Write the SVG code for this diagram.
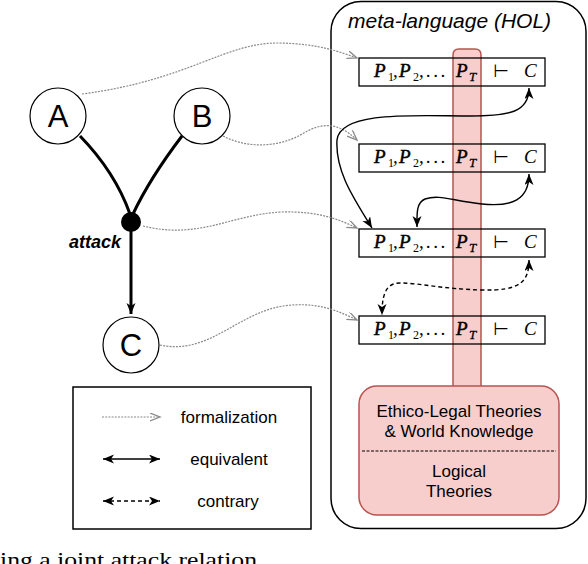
<svg xmlns="http://www.w3.org/2000/svg" width="588" height="564" viewBox="0 0 588 564">
<defs>
<style>
.sans{font-family:"Liberation Sans",Arial,sans-serif;fill:#000}
.node{fill:#fff;stroke:#000;stroke-width:1.2}
.edge{fill:none;stroke:#000;stroke-width:3}
.fbox{fill:none;stroke:#000;stroke-width:1.3}
.m{font-family:"Liberation Serif","Times New Roman",serif;font-style:italic;font-size:19px;fill:#000}
.p{stroke:#000;stroke-width:0.5}
.ms{font-family:"Liberation Serif","Times New Roman",serif;font-style:normal;font-size:12px;fill:#000}
.mt{font-family:"Liberation Serif","Times New Roman",serif;font-style:italic;font-size:13px;fill:#000;stroke:#000;stroke-width:0.3}
.turn{font-family:"DejaVu Sans",sans-serif;font-size:18px;fill:#000}
.form{fill:none;stroke:#8a8a8a;stroke-width:1.2;stroke-dasharray:2 1.2}
.equiv{fill:none;stroke:#000;stroke-width:1.4}
.contr{fill:none;stroke:#000;stroke-width:1.4;stroke-dasharray:4 3}
.red{fill:#f8cecc;stroke:#b85450;stroke-width:1.5}
.lbl{font-size:17px;text-anchor:middle}
</style>
<marker id="open" markerUnits="userSpaceOnUse" markerWidth="12" markerHeight="10" refX="10" refY="4" orient="auto">
<path d="M0,0 L10,4 L0,8" fill="none" stroke="#8a8a8a" stroke-width="1.3"/>
</marker>
<marker id="fill" markerUnits="userSpaceOnUse" markerWidth="13" markerHeight="10" refX="11" refY="4.5" orient="auto-start-reverse">
<path d="M0,0 L11,4.5 L0,9 L3,4.5 z" fill="#000"/>
</marker>
</defs>
<rect width="588" height="564" fill="#fff"/>

<g id="meta-language">
<rect x="331" y="1.5" width="255" height="527" rx="30" ry="30" fill="none" stroke="#000" stroke-width="1.5"/>
<text class="sans" x="348" y="28" font-size="21" font-style="italic">meta-language (HOL)</text>
</g>

<g id="theory-bar">
<path class="red" d="M453,390 V55 Q453,49 459,49 H475 Q481,49 481,55 V390"/>
</g>

<g id="theories">
<rect class="red" x="359" y="386" width="200" height="129" rx="18" ry="18"/>
<line x1="362" y1="451" x2="556" y2="451" stroke="#000" stroke-width="1" stroke-dasharray="3 1.5"/>
<text class="sans lbl" x="459" y="417">Ethico-Legal Theories</text>
<text class="sans lbl" x="459" y="437">&amp; World Knowledge</text>
<text class="sans lbl" x="459" y="477">Logical</text>
<text class="sans lbl" x="459" y="497">Theories</text>
</g>

<g id="formula1" transform="translate(0,58)">
<rect class="fbox" x="359" y="0" width="186" height="28"/>
<text class="m p" x="374" y="19">P</text><text class="ms" x="388" y="23">1</text><text class="m" x="393" y="19" font-style="normal">,</text>
<text class="m p" x="399" y="19">P</text><text class="ms" x="413" y="23">2</text><text class="m" x="419" y="19" font-style="normal" letter-spacing="2.6">,...</text>
<text class="m p" x="456" y="19">P</text><text class="mt" x="469" y="23">T</text>
<text class="turn" x="493" y="19">⊢</text><text class="m" x="524" y="19">C</text>
</g>
<g id="formula2" transform="translate(0,144)">
<rect class="fbox" x="359" y="0" width="186" height="28"/>
<text class="m p" x="374" y="19">P</text><text class="ms" x="388" y="23">1</text><text class="m" x="393" y="19" font-style="normal">,</text>
<text class="m p" x="399" y="19">P</text><text class="ms" x="413" y="23">2</text><text class="m" x="419" y="19" font-style="normal" letter-spacing="2.6">,...</text>
<text class="m p" x="456" y="19">P</text><text class="mt" x="469" y="23">T</text>
<text class="turn" x="493" y="19">⊢</text><text class="m" x="524" y="19">C</text>
</g>
<g id="formula3" transform="translate(0,229)">
<rect class="fbox" x="359" y="0" width="186" height="28"/>
<text class="m p" x="374" y="19">P</text><text class="ms" x="388" y="23">1</text><text class="m" x="393" y="19" font-style="normal">,</text>
<text class="m p" x="399" y="19">P</text><text class="ms" x="413" y="23">2</text><text class="m" x="419" y="19" font-style="normal" letter-spacing="2.6">,...</text>
<text class="m p" x="456" y="19">P</text><text class="mt" x="469" y="23">T</text>
<text class="turn" x="493" y="19">⊢</text><text class="m" x="524" y="19">C</text>
</g>
<g id="formula4" transform="translate(0,316)">
<rect class="fbox" x="359" y="0" width="186" height="28"/>
<text class="m p" x="374" y="19">P</text><text class="ms" x="388" y="23">1</text><text class="m" x="393" y="19" font-style="normal">,</text>
<text class="m p" x="399" y="19">P</text><text class="ms" x="413" y="23">2</text><text class="m" x="419" y="19" font-style="normal" letter-spacing="2.6">,...</text>
<text class="m p" x="456" y="19">P</text><text class="mt" x="469" y="23">T</text>
<text class="turn" x="493" y="19">⊢</text><text class="m" x="524" y="19">C</text>
</g>

<g id="node-A">
<circle class="node" cx="58" cy="116" r="28"/>
<text class="sans" x="58" y="127" font-size="31" text-anchor="middle">A</text>
</g>
<g id="node-B">
<circle class="node" cx="202" cy="116" r="28"/>
<text class="sans" x="202" y="127" font-size="31" text-anchor="middle">B</text>
</g>
<g id="node-C">
<circle class="node" cx="131" cy="345" r="28"/>
<text class="sans" x="131" y="356" font-size="31" text-anchor="middle">C</text>
</g>
<g id="attack">
<circle cx="131" cy="222" r="10" fill="#000"/>
<text class="sans" x="121" y="248" font-size="18" font-weight="bold" font-style="italic" text-anchor="end">attack</text>
</g>

<g id="connectors">
<path class="edge" d="M80,136 Q115,172 130,214"/>
<path class="edge" d="M182,136 Q150,178 133,214"/>
<path class="edge" d="M131,230 V314" marker-end="url(#fill)"/>

<path class="form" d="M82,94 C190,80 225,42 280,43 C320,44 340,52 357,58" marker-end="url(#open)"/>
<path class="form" d="M223,136 C250,150 282,146 302,134 C322,122 338,122 357,140" marker-end="url(#open)"/>
<path class="form" d="M143,226 C200,240 232,214 282,212 C320,211 340,220 357,228" marker-end="url(#open)"/>
<path class="form" d="M160,345 C212,356 240,308 292,305 C322,303 340,312 357,320" marker-end="url(#open)"/>

<path class="equiv" d="M529,88 C529,112 510,116 470,116 C420,116 340,110 337,140 C335,172 355,200 372,228" marker-start="url(#fill)" marker-end="url(#fill)"/>
<path class="equiv" d="M529,174 C529,200 512,207 482,204 C452,201 440,194 425,199 C416,203 417,214 417,227" marker-start="url(#fill)" marker-end="url(#fill)"/>
<path class="contr" d="M529,260 C529,282 520,291 482,290 C442,289 420,283 400,283 C385,283 382,296 382,315" marker-start="url(#fill)" marker-end="url(#fill)"/>
</g>

<g id="legend">
<rect x="73" y="387" width="238" height="142" fill="none" stroke="#000" stroke-width="1.5"/>
<line class="form" x1="102" y1="417" x2="160" y2="417" marker-end="url(#open)"/>
<text class="sans lbl" x="229" y="423">formalization</text>
<line class="equiv" x1="103" y1="459" x2="160" y2="459" stroke-width="2" marker-start="url(#fill)" marker-end="url(#fill)"/>
<text class="sans lbl" x="229" y="465">equivalent</text>
<line class="contr" x1="103" y1="501" x2="160" y2="501" stroke-width="2" marker-start="url(#fill)" marker-end="url(#fill)"/>
<text class="sans lbl" x="228" y="507">contrary</text>
</g>

<text x="0" y="567" font-family="Liberation Serif,'Times New Roman',serif" font-size="22" textLength="257" lengthAdjust="spacingAndGlyphs">ing a joint attack relation</text>
</svg>
